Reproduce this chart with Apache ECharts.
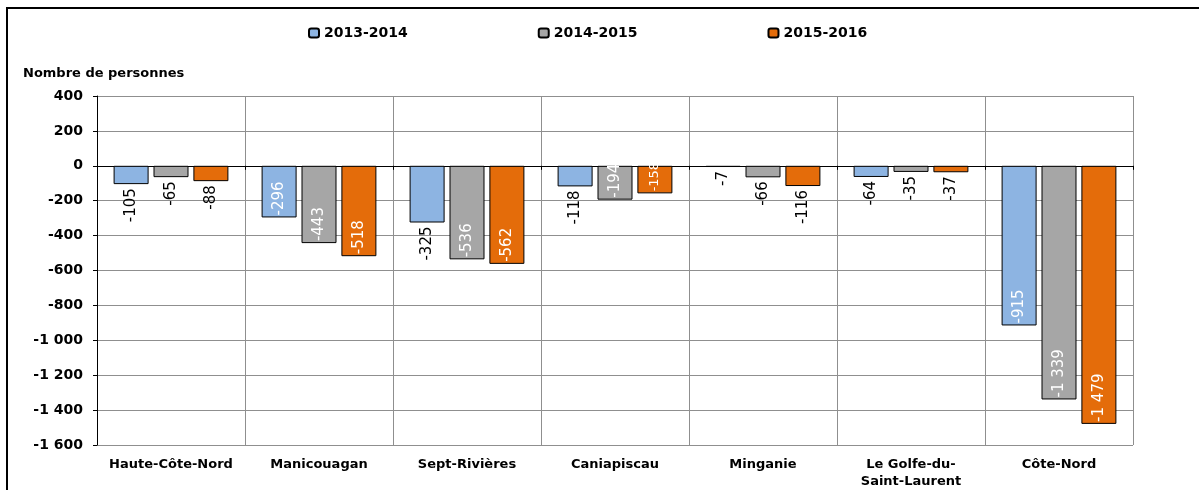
<!DOCTYPE html>
<html>
<head>
<meta charset="utf-8">
<script src="https://cdn.jsdelivr.net/npm/echarts@6/dist/echarts.min.js"></script>
<style>
  html, body { margin: 0; padding: 0; background: #fff; }
  #chart { width: 1199px; height: 490px; }
</style>
</head>
<body>
<div id="chart"></div>
<script>
// données
const regions = ['Haute-Côte-Nord', 'Manicouagan', 'Sept-Rivières', 'Caniapiscau', 'Minganie', 'Le Golfe-du-\nSaint-Laurent', 'Côte-Nord']
const periods = ['2013-2014', '2014-2015', '2015-2016']
const v2013 = [-105, -296, -325, -118, -7, -64, -915]
const v2014 = [-65, -443, -536, -194, -66, -35, -1339]
const v2015 = [-88, -518, -562, -158, -116, -37, -1479]
const yTicks = [-1600, -1400, -1200, -1000, -800, -600, -400, -200, 0, 200, 400]

// étiquettes à l'intérieur de la barre (en blanc) ou en dessous (en noir)
const labelInside = [
  [false, true, false, false, false, false, true],
  [false, true, true, true, false, false, true],
  [false, true, true, true, false, false, true]
]
const colors = ['#8db4e2', '#a6a6a6', '#e46c0a']

function fmt(n) {
  let s = Math.abs(n).toString().replace(/\B(?=(\d{3})+(?!\d))/g, ' ')
  return (n < 0 ? '-' : '') + s
}

function buildData(values, inside) {
  return values.map((v, i) => {
    if (inside[i]) {
      // petite barre : police réduite pour que le texte tienne dedans
      let size = Math.abs(v) < 180 ? 13 : 15
      return {value: v, label: {position: 'insideBottom', align: 'left', verticalAlign: 'middle', color: '#fff', distance: 2, fontSize: size}}
    }
    return {value: v, label: {position: 'bottom', align: 'right', verticalAlign: 'middle', color: '#000', distance: 4}}
  })
}

const seriesValues = [v2013, v2014, v2015]
const font = 'DejaVu Sans'

const option = {
  animation: false,
  backgroundColor: '#fff',
  title: {
    text: 'Nombre de personnes',
    left: 18,
    top: 62,
    textStyle: {fontFamily: font, fontSize: 13, fontWeight: 'bold', color: '#000'}
  },
  legend: {
    data: periods,
    left: 303,
    top: 21,
    itemWidth: 10,
    itemHeight: 9,
    itemGap: 130,
    textStyle: {fontFamily: font, fontSize: 14, fontWeight: 'bold', color: '#000'}
  },
  grid: {left: 97, right: 66, top: 96, bottom: 44},
  xAxis: [
    {
      type: 'category',
      data: regions,
      position: 'bottom',
      axisLine: {show: false, onZero: false},
      axisTick: {show: false},
      axisLabel: {interval: 0, margin: 11, fontFamily: font, fontSize: 13, fontWeight: 'bold', color: '#000', lineHeight: 17},
      splitLine: {show: true, interval: 0, lineStyle: {color: '#8f8f8f', width: 1}}
    },
    {
      type: 'category',
      data: regions,
      position: 'bottom',
      axisLine: {show: true, onZero: true, lineStyle: {color: '#000', width: 1}},
      axisTick: {show: true, interval: 0, length: 4, lineStyle: {color: '#000'}},
      axisLabel: {show: false},
      splitLine: {show: false}
    }
  ],
  yAxis: {
    type: 'value',
    min: yTicks[0],
    max: yTicks[yTicks.length - 1],
    interval: 200,
    axisLine: {show: true, lineStyle: {color: '#000', width: 1}},
    axisTick: {show: true, length: 4, lineStyle: {color: '#000'}},
    axisLabel: {margin: 14, fontFamily: font, fontSize: 14, fontWeight: 'bold', color: '#000', formatter: fmt},
    splitLine: {show: true, lineStyle: {color: '#8f8f8f', width: 1}}
  },
  graphic: [
    {
      type: 'rect',
      shape: {x: 7, y: 8, width: 1400, height: 700},
      style: {fill: 'none', stroke: '#000', lineWidth: 2},
      silent: true
    }
  ],
  series: periods.map((name, k) => ({
    name: name,
    type: 'bar',
    xAxisIndex: 0,
    barWidth: 35,
    barGap: '14%',
    itemStyle: {color: colors[k], borderColor: '#000', borderWidth: 1},
    label: {
      show: true,
      rotate: 90,
      overflow: 'none',
      fontFamily: font,
      fontSize: 15,
      formatter: p => fmt(p.value)
    },
    labelLayout: {hideOverlap: false},
    data: buildData(seriesValues[k], labelInside[k])
  }))
}

const chart = echarts.init(document.getElementById('chart'))
chart.setOption(option)
</script>
</body>
</html>
